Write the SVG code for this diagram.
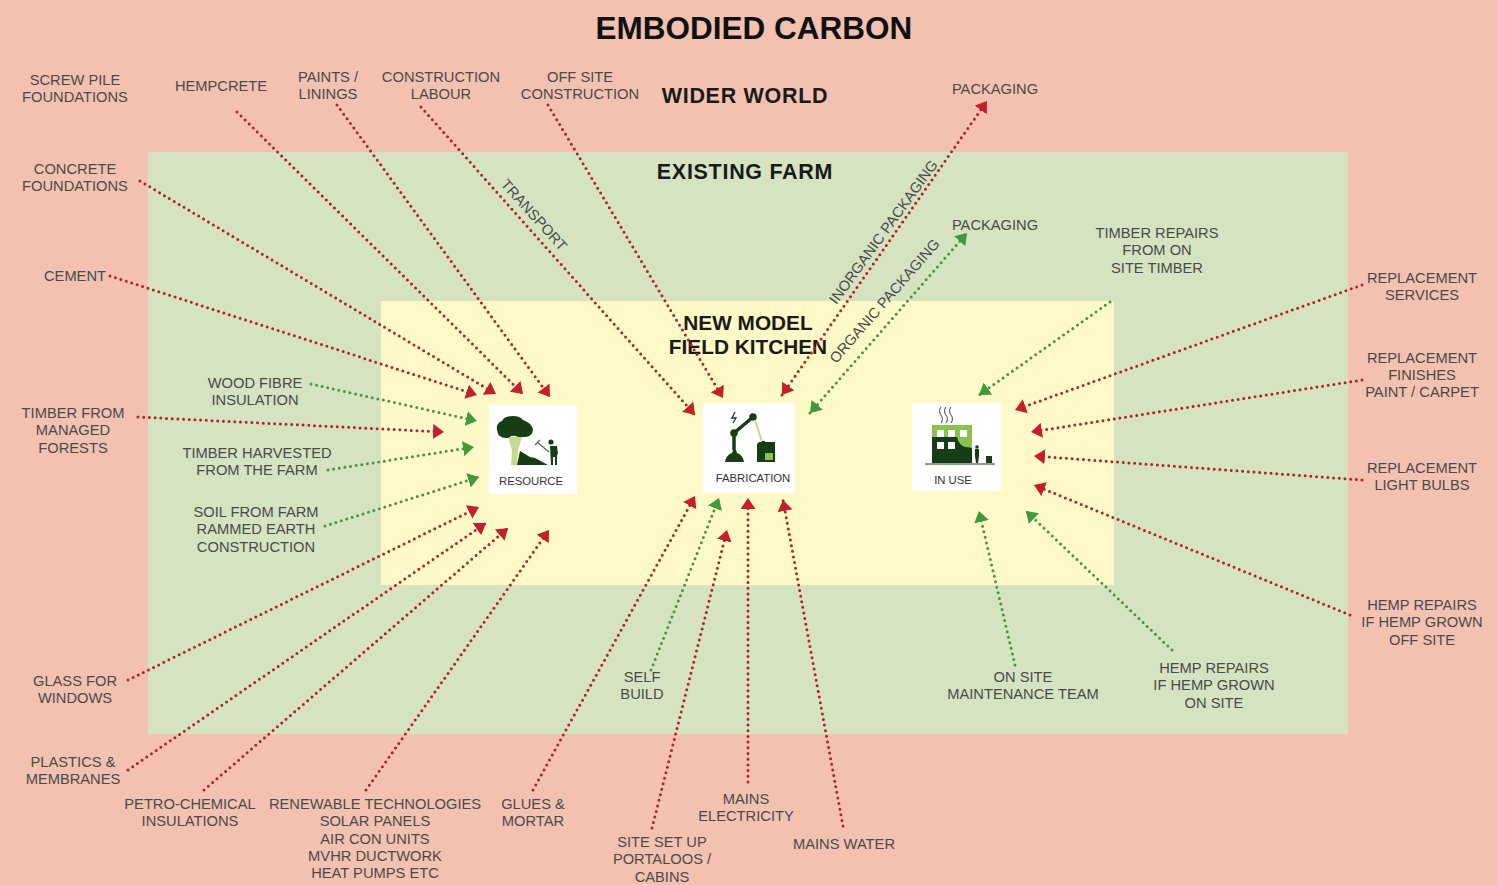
<svg xmlns="http://www.w3.org/2000/svg" width="1497" height="885" viewBox="0 0 1497 885">
<style>
text{font-family:"Liberation Sans",Arial,sans-serif;}
.l{font-size:14.7px;fill:#4a4a4a;text-anchor:middle;}
.z{font-size:21.5px;font-weight:bold;fill:#1a1a1a;text-anchor:middle;letter-spacing:.7px;}
.n{font-size:20.8px;font-weight:bold;fill:#1a1a1a;text-anchor:middle;}
.i{font-size:11.3px;fill:#333;text-anchor:middle;}
.r,.g{fill:none;stroke-width:3;stroke-dasharray:0 5.7;stroke-linecap:round;}
.r{stroke:#b3212b;marker-end:url(#ar);}
.g{stroke:#3f9a3c;marker-end:url(#ag);}
.dk{fill:#173d17;}
.lg{fill:#8cc152;}
.pl{fill:#c4da8e;}
</style>
<defs>
<marker id="ar" viewBox="0 0 11 15" refX="11" refY="7.5" markerWidth="11" markerHeight="15" markerUnits="userSpaceOnUse" orient="auto-start-reverse"><path d="M0 0L11 7.5L0 15Z" fill="#c4202a"/></marker>
<marker id="ag" viewBox="0 0 11 15" refX="11" refY="7.5" markerWidth="11" markerHeight="15" markerUnits="userSpaceOnUse" orient="auto-start-reverse"><path d="M0 0L11 7.5L0 15Z" fill="#3f9a3c"/></marker>
</defs>
<rect width="1497" height="885" fill="#f3c1b0"/>
<rect x="148" y="152" width="1200" height="582" fill="#d5e3c1"/>
<rect x="381" y="301" width="733" height="284" fill="#fff9c8"/>
<text x="754" y="39" text-anchor="middle" font-size="31.5" font-weight="bold" fill="#111">EMBODIED CARBON</text>
<text class="z" x="745" y="103">WIDER WORLD</text>
<text class="z" x="745" y="179">EXISTING FARM</text>
<text class="n" x="748" y="330">NEW MODEL</text>
<text class="n" x="748" y="354">FIELD KITCHEN</text>

<g id="connectors">
<path class="r" d="M110 276L477 395"/>
<path class="r" d="M140 181L496 394"/>
<path class="r" d="M237 112L523 394"/>
<path class="r" d="M337 105L550 397"/>
<path class="r" d="M421 107L695 415"/>
<path class="r" d="M548 105L723 398"/>
<path class="r" d="M782 395L987 101" style="marker-start:url(#ar)"/>
<path class="g" d="M810 413L967 233" style="marker-start:url(#ag)"/>
<path class="g" d="M1110 302L979 395"/>
<path class="r" d="M1362 285L1015 410"/>
<path class="r" d="M1362 380L1031 432"/>
<path class="r" d="M1362 480L1034 456"/>
<path class="r" d="M1350 615L1034 485"/>
<path class="g" d="M1172 650L1026 511"/>
<path class="g" d="M1015 665L979 511"/>
<path class="r" d="M843 826L783 500"/>
<path class="r" d="M748 782L748 498"/>
<path class="r" d="M652 828L727 530"/>
<path class="g" d="M651 670L719 498"/>
<path class="r" d="M533 790L695 496"/>
<path class="r" d="M128 680L479 507"/>
<path class="r" d="M128 770L486 523"/>
<path class="r" d="M204 790L508 528"/>
<path class="r" d="M366 790L549 530"/>
<path class="r" d="M138 417L444 432"/>
<path class="g" d="M311 384L477 421"/>
<path class="g" d="M328 470L474 447"/>
<path class="g" d="M325 526L479 477"/>
</g>

<g id="node-resource">
<rect x="489" y="405" width="88" height="89" fill="#fff"/>
<path class="pl" d="M508 437L522 437L518 450L517 465H511L512 450Z"/>
<path class="dk" d="M497 430Q496 423 502 421Q504 416 513 416Q520 416 523 420Q532 423 533 430Q532 437 525 437L518 437Q513 434 508 438Q498 439 497 430Z"/>
<path class="dk" d="M517 465L520 451L525 454L530 457L535 458L548 465Z"/>
<path class="dk" d="M550 446h7l1 8-1 1v10h-2v-8h-2v8h-2Z"/>
<circle cx="551" cy="442" r="2.6" fill="#173d17"/>
<path d="M535 445L540 440M537 442L549 452" stroke="#666" stroke-width="1.3" fill="none"/>
<text class="i" x="531" y="485">RESOURCE</text>
</g>

<g id="node-fabrication">
<rect x="703" y="403" width="92" height="90" fill="#fff"/>
<path class="dk" d="M725 462Q726 455 732 453L733 450H736L737 453Q743 455 744 462Z"/>
<path d="M734 450L734 433L753 417" stroke="#173d17" stroke-width="3.5" fill="none"/>
<circle cx="734" cy="433" r="3.8" fill="#173d17"/>
<circle cx="753" cy="417" r="3.8" fill="#173d17"/>
<path d="M755 420L762 442" stroke="#c4da8e" stroke-width="2" fill="none"/>
<path class="dk" d="M757 444l2-2h3v-1h3v1h10v20h-18Z"/>
<rect class="lg" x="765" y="453" width="8" height="7"/>
<path d="M735 412l-3 6h4l-3 5" stroke="#173d17" stroke-width="1.3" fill="none"/>
<text class="i" x="753" y="482">FABRICATION</text>
</g>

<g id="node-inuse">
<rect x="912" y="403" width="89" height="88" fill="#fff"/>
<rect class="lg" x="932" y="425" width="40" height="38"/>
<path class="dk" d="M932 437h25q2 8 8 10q4 0 7 1v15h-40Z"/>
<path d="M937 430h7v7h-7zM948 430h7v7h-7zM960 430h7v7h-7zM937 442h7v7h-7zM948 442h7v7h-7z" fill="#fff"/>
<path class="dk" d="M975 449h4v7l-1 7h-2l-1-7Z"/>
<circle cx="977" cy="447" r="1.8" fill="#173d17"/>
<rect x="986" y="456" width="6" height="7" fill="#173d17"/>
<path d="M925 464H995" stroke="#173d17" stroke-width="1" fill="none"/>
<path d="M941 407q-3 4 0 8t0 8M946 407q-3 4 0 8t0 8M951 407q-3 4 0 8t0 8" stroke="#666" stroke-width="1.2" fill="none"/>
<text class="i" x="953" y="484">IN USE</text>
</g>

<g id="labels">
<text class="l" x="75" y="85">SCREW PILE<tspan x="75" dy="17.3">FOUNDATIONS</tspan></text>
<text class="l" x="221" y="91">HEMPCRETE</text>
<text class="l" x="328" y="82">PAINTS /<tspan x="328" dy="17.3">LININGS</tspan></text>
<text class="l" x="441" y="82">CONSTRUCTION<tspan x="441" dy="17.3">LABOUR</tspan></text>
<text class="l" x="580" y="82">OFF SITE<tspan x="580" dy="17.3">CONSTRUCTION</tspan></text>
<text class="l" x="995" y="94">PACKAGING</text>
<text class="l" x="75" y="173.500">CONCRETE<tspan x="75" dy="17.3">FOUNDATIONS</tspan></text>
<text class="l" x="75" y="281">CEMENT</text>
<text class="l" x="73" y="418">TIMBER FROM<tspan x="73" dy="17.3">MANAGED</tspan><tspan x="73" dy="17.3">FORESTS</tspan></text>
<text class="l" x="255" y="388">WOOD FIBRE<tspan x="255" dy="17.3">INSULATION</tspan></text>
<text class="l" x="257" y="458">TIMBER HARVESTED<tspan x="257" dy="17.3">FROM THE FARM</tspan></text>
<text class="l" x="256" y="517">SOIL FROM FARM<tspan x="256" dy="17.3">RAMMED EARTH</tspan><tspan x="256" dy="17.3">CONSTRUCTION</tspan></text>
<text class="l" x="75" y="686">GLASS FOR<tspan x="75" dy="17.3">WINDOWS</tspan></text>
<text class="l" x="73" y="766.500">PLASTICS &amp;<tspan x="73" dy="17.3">MEMBRANES</tspan></text>
<text class="l" x="190" y="809">PETRO-CHEMICAL<tspan x="190" dy="17.3">INSULATIONS</tspan></text>
<text class="l" x="375" y="809">RENEWABLE TECHNOLOGIES<tspan x="375" dy="17.3">SOLAR PANELS</tspan><tspan x="375" dy="17.3">AIR CON UNITS</tspan><tspan x="375" dy="17.3">MVHR DUCTWORK</tspan><tspan x="375" dy="17.3">HEAT PUMPS ETC</tspan></text>
<text class="l" x="533" y="809">GLUES &amp;<tspan x="533" dy="17.3">MORTAR</tspan></text>
<text class="l" x="662" y="847">SITE SET UP<tspan x="662" dy="17.3">PORTALOOS /</tspan><tspan x="662" dy="17.3">CABINS</tspan></text>
<text class="l" x="746" y="804">MAINS<tspan x="746" dy="17.3">ELECTRICITY</tspan></text>
<text class="l" x="844" y="849">MAINS WATER</text>
<text class="l" x="642" y="681.500">SELF<tspan x="642" dy="17.3">BUILD</tspan></text>
<text class="l" x="1023" y="681.500">ON SITE<tspan x="1023" dy="17.3">MAINTENANCE TEAM</tspan></text>
<text class="l" x="1214" y="673">HEMP REPAIRS<tspan x="1214" dy="17.3">IF HEMP GROWN</tspan><tspan x="1214" dy="17.3">ON SITE</tspan></text>
<text class="l" x="1422" y="610">HEMP REPAIRS<tspan x="1422" dy="17.3">IF HEMP GROWN</tspan><tspan x="1422" dy="17.3">OFF SITE</tspan></text>
<text class="l" x="1422" y="472.500">REPLACEMENT<tspan x="1422" dy="17.3">LIGHT BULBS</tspan></text>
<text class="l" x="1422" y="362.500">REPLACEMENT<tspan x="1422" dy="17.3">FINISHES</tspan><tspan x="1422" dy="17.3">PAINT / CARPET</tspan></text>
<text class="l" x="1422" y="282.500">REPLACEMENT<tspan x="1422" dy="17.3">SERVICES</tspan></text>
<text class="l" x="1157" y="238">TIMBER REPAIRS<tspan x="1157" dy="17.3">FROM ON</tspan><tspan x="1157" dy="17.3">SITE TIMBER</tspan></text>
<text class="l" x="995" y="229.500">PACKAGING</text>
<text class="l" transform="translate(534 215) rotate(48)" dy="5">TRANSPORT</text>
<text class="l" transform="translate(883.500 232) rotate(-54)" dy="5">INORGANIC PACKAGING</text>
<text class="l" transform="translate(884.500 301) rotate(-49)" dy="5">ORGANIC PACKAGING</text>
</g>
</svg>
